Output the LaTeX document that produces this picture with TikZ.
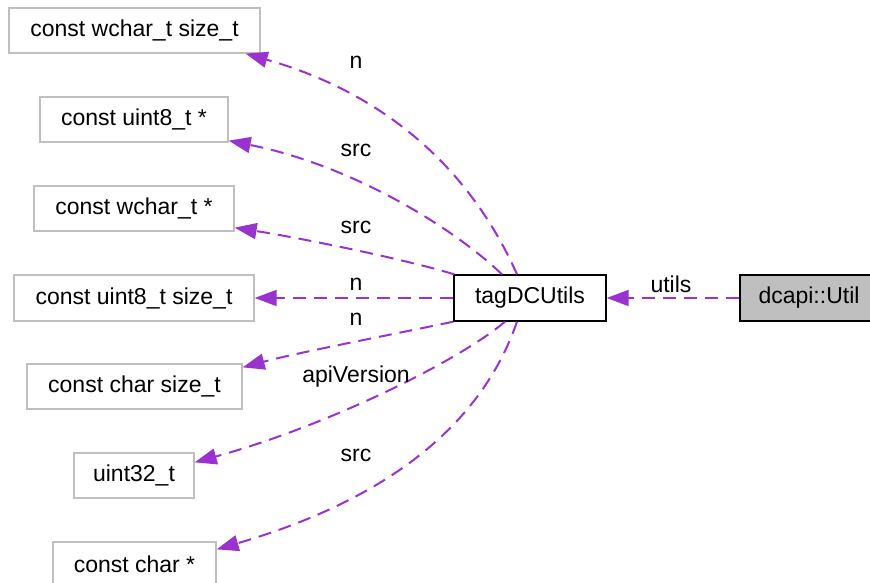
\documentclass[tikz,border=0pt]{standalone}
\usepackage{fontspec}
\setmainfont{Liberation Sans}
\usetikzlibrary{arrows.meta}
\definecolor{edgecol}{HTML}{9A32CD}
\definecolor{leafgray}{HTML}{BFBFBF}
\tikzset{
  leaf/.style={draw=leafgray, line width=1.3pt, fill=white, inner sep=0pt, minimum height=45pt, text=black},
  mainbox/.style={draw=black, line width=1.3pt, fill=white, inner sep=0pt, minimum height=46pt, text=black},
  edge/.style={draw=edgecol, line width=2pt, dash pattern=on 13pt off 8pt, -{Triangle[length=22pt,width=16pt]}},
  elabel/.style={text=black, inner sep=0pt}
}
\begin{document}
\begin{tikzpicture}[x=1pt,y=1pt,font=\fontsize{23}{27}\selectfont]
\useasboundingbox (0,0) rectangle (870,582);
% nodes
\node[leaf, minimum width=251pt] (A) at (134.5,551.5) {const wchar\_t size\_t};
\node[leaf, minimum width=188pt] (B) at (134,462.5) {const uint8\_t *};
\node[leaf, minimum width=200pt] (C) at (134,373.5) {const wchar\_t *};
\node[leaf, minimum width=240pt, minimum height=46pt] (D) at (134,284) {const uint8\_t size\_t};
\node[leaf, minimum width=215pt] (E) at (134.5,195.5) {const char size\_t};
\node[leaf, minimum width=120pt] (F) at (134,106.5) {uint32\_t};
\node[leaf, minimum width=163pt] (G) at (134.5,17.5) {const char *};
\node[mainbox, minimum width=152pt] (T) at (530,284) {tagDCUtils};
\node[mainbox, fill=leafgray, minimum width=138pt] (U) at (809,284) {dcapi::Util};
% edges
\draw[edge] ([xshift=-13pt]T.north) .. controls (468,418) and (380,490) .. ([xshift=-15pt]A.south east);
\draw[edge] ([xshift=-28pt]T.north) .. controls (450,357) and (350,417) .. ([yshift=2pt]B.south east);
\draw[edge] ([xshift=1pt]T.north west) .. controls (400,324) and (300,344) .. ([yshift=4pt]C.south east);
\draw[edge] (T.west) -- (D.east);
\draw[edge] (T.south west) .. controls (400,249) and (300,230) .. ([yshift=-4pt]E.north east);
\draw[edge] ([xshift=-25pt]T.south) .. controls (460,222) and (330,157) .. ([yshift=-10pt]F.north east);
\draw[edge] ([xshift=-13pt]T.south) .. controls (490,182) and (420,92) .. ([yshift=-8pt]G.north east);
\draw[edge] (U.west) -- (T.east);
% labels
\node[elabel] (l1) at (356,520) {n};
\node[elabel] (l2) at (356,432) {src};
\node[elabel] (l3) at (356,355) {src};
\node[elabel] (l4) at (356,298) {n};
\node[elabel] (l5) at (356,263) {n};
\node[elabel] (l6) at (356,205) {apiVersion};
\node[elabel] (l7) at (356,127) {src};
\node[elabel] (l8) at (671,298) {utils};
\end{tikzpicture}
\end{document}
